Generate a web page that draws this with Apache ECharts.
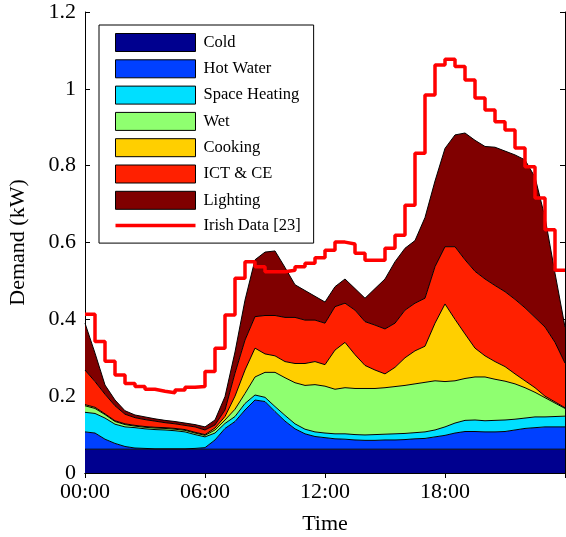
<!DOCTYPE html>
<html>
<head>
<meta charset="utf-8">
<script src="https://cdn.jsdelivr.net/npm/echarts@6/dist/echarts.min.js"></script>
<style>html,body{margin:0;padding:0;background:#fff}#c{width:566px;height:537px}</style>
</head>
<body>
<div id="c"></div>
<script>
// time of day in hours (30-minute samples)
const times = [0,0.5,1,1.5,2,2.5,3,3.5,4,4.5,5,5.5,6,6.5,7,7.5,8,8.5,9,9.5,10,10.5,11,11.5,12,12.5,13,13.5,14,14.5,15,15.5,16,16.5,17,17.5,18,18.5,19,19.5,20,20.5,21,21.5,22,22.5,23,23.5,24];
const xTickLabels = ['00:00','06:00','12:00','18:00'];
const categories = ['Cold','Hot Water','Space Heating','Wet','Cooking','ICT & CE','Lighting'];
const colors = ['#00008f','#0040ff','#00dfff','#8fff70','#ffcf00','#ff2000','#800000'];

const cold = [0.062,0.062,0.062,0.062,0.062,0.062,0.062,0.062,0.062,0.062,0.062,0.062,0.062,0.062,0.062,0.062,0.062,0.062,0.062,0.062,0.062,0.062,0.062,0.062,0.062,0.062,0.062,0.062,0.062,0.062,0.062,0.062,0.062,0.062,0.062,0.062,0.062,0.062,0.062,0.062,0.062,0.062,0.062,0.062,0.062,0.062,0.062,0.062,0.062];
const hotWater = [0.045,0.042,0.026,0.015,0.007,0.003,0.002,0.001,0.001,0.001,0.001,0.002,0.004,0.024,0.054,0.072,0.102,0.128,0.124,0.098,0.073,0.053,0.040,0.033,0.030,0.027,0.026,0.024,0.023,0.023,0.024,0.024,0.025,0.027,0.028,0.032,0.036,0.042,0.046,0.046,0.045,0.045,0.046,0.050,0.054,0.056,0.058,0.058,0.058];
const spaceHeating = [0.051,0.051,0.055,0.050,0.051,0.053,0.051,0.050,0.049,0.047,0.044,0.036,0.028,0.018,0.013,0.013,0.017,0.013,0.011,0.013,0.015,0.013,0.012,0.012,0.012,0.013,0.014,0.014,0.014,0.015,0.015,0.016,0.016,0.016,0.017,0.018,0.022,0.026,0.029,0.030,0.029,0.030,0.030,0.028,0.027,0.028,0.026,0.027,0.028];
const wet = [0.017,0.013,0.009,0.007,0.006,0.004,0.004,0.004,0.004,0.004,0.004,0.004,0.004,0.008,0.009,0.019,0.026,0.047,0.065,0.089,0.098,0.107,0.114,0.123,0.122,0.116,0.120,0.120,0.121,0.120,0.121,0.123,0.125,0.127,0.129,0.128,0.118,0.110,0.109,0.112,0.114,0.107,0.101,0.092,0.079,0.064,0.050,0.035,0.020];
const cooking = [0.003,0.003,0.002,0.002,0.002,0.002,0.002,0.002,0.002,0.002,0.002,0.002,0.002,0.005,0.009,0.034,0.061,0.075,0.048,0.043,0.042,0.050,0.057,0.060,0.056,0.102,0.118,0.088,0.060,0.048,0.036,0.050,0.072,0.086,0.094,0.150,0.202,0.160,0.116,0.075,0.055,0.046,0.038,0.026,0.018,0.012,0.004,0.003,0.002];
const ict = [0.090,0.067,0.051,0.039,0.025,0.020,0.018,0.016,0.013,0.012,0.011,0.014,0.012,0.008,0.017,0.060,0.078,0.082,0.100,0.105,0.115,0.120,0.113,0.108,0.108,0.113,0.102,0.116,0.114,0.117,0.117,0.115,0.124,0.124,0.125,0.147,0.149,0.189,0.193,0.200,0.200,0.198,0.195,0.194,0.190,0.183,0.180,0.155,0.116];
const lighting = [0.122,0.074,0.024,0.015,0.009,0.007,0.007,0.006,0.006,0.006,0.006,0.006,0.008,0.013,0.035,0.055,0.104,0.148,0.165,0.168,0.130,0.085,0.077,0.062,0.055,0.052,0.063,0.056,0.061,0.095,0.130,0.160,0.161,0.163,0.210,0.223,0.256,0.291,0.330,0.341,0.345,0.360,0.366,0.376,0.385,0.365,0.285,0.180,0.094];

// Irish Data [23]: half-hourly values (each holds for 30 minutes); last one held until 24:00
const irish = [0.413,0.342,0.291,0.255,0.233,0.225,0.218,0.213,0.209,0.216,0.223,0.225,0.264,0.325,0.411,0.507,0.550,0.537,0.524,0.524,0.528,0.537,0.546,0.560,0.580,0.601,0.596,0.572,0.554,0.554,0.585,0.619,0.697,0.832,0.984,1.062,1.077,1.058,1.023,0.976,0.945,0.914,0.893,0.846,0.797,0.716,0.633,0.528];

const layers = [cold, hotWater, spaceHeating, wet, cooking, ict, lighting];
const serif = "'Liberation Serif','Times New Roman',serif";

const series = layers.map((vals, k) => ({
  name: categories[k],
  type: 'line',
  stack: 'demand',
  symbol: 'none',
  data: vals,
  lineStyle: {color: '#000', width: 1},
  areaStyle: {color: colors[k], opacity: 1},
  itemStyle: {color: colors[k]},
  z: 2
}));
series.push({
  name: 'Irish Data [23]',
  type: 'line',
  symbol: 'none',
  step: 'end',
  data: times.map((t, i) => irish[Math.min(i, irish.length - 1)]),
  lineStyle: {color: '#ff0000', width: 3.5},
  itemStyle: {color: '#ff0000'},
  z: 5
});

const legendData = categories.map((c, k) => ({
  name: c, icon: 'rect',
  itemStyle: {color: colors[k], borderColor: '#000', borderWidth: 1}
}));
legendData.push({name: 'Irish Data [23]', icon: 'path://M0,0 L80,0 L80,3.5 L0,3.5 Z',
  itemStyle: {color: '#ff0000', borderWidth: 0}});

const axisText = {color: '#000', fontFamily: serif, fontSize: 22};
const tickCommon = {show: true, inside: true, length: 5, interval: 11, lineStyle: {color: '#000', width: 1}};
const lineCommon = {show: true, lineStyle: {color: '#000', width: 1}};
const catLabels = times.map(String);

const chart = echarts.init(document.getElementById('c'), null, {renderer: 'canvas'});
chart.setOption({
  animation: false,
  backgroundColor: '#fff',
  grid: {left: 85, right: 1, top: 12, bottom: 64, containLabel: false, outerBoundsMode: 'none'},
  legend: {
    orient: 'vertical', left: 99, top: 25,
    padding: [8, 13, 9, 16],
    itemWidth: 80, itemHeight: 18, itemGap: 7.3,
    backgroundColor: '#fff', borderColor: '#000', borderWidth: 1, borderRadius: 0,
    selectedMode: false,
    textStyle: {color: '#000', fontFamily: serif, fontSize: 16.5, padding: [0, 0, 0, 3]},
    data: legendData
  },
  xAxis: [{
    type: 'category', data: catLabels, boundaryGap: false, position: 'bottom',
    name: 'Time', nameLocation: 'middle', nameGap: 40,
    nameTextStyle: axisText,
    axisLine: lineCommon, axisTick: tickCommon, splitLine: {show: false},
    axisLabel: Object.assign({margin: 8, interval: 11,
      formatter: (v, i) => (i % 12 === 0 && i < 48 ? xTickLabels[i / 12] : '')}, axisText)
  }, {
    type: 'category', data: catLabels, boundaryGap: false, position: 'top',
    axisLine: lineCommon, axisTick: tickCommon, splitLine: {show: false},
    axisLabel: {show: false}
  }],
  yAxis: [{
    type: 'value', min: 0, max: 1.2, interval: 0.2, position: 'left',
    name: 'Demand (kW)', nameLocation: 'middle', nameGap: 56,
    nameTextStyle: axisText,
    axisLine: lineCommon, axisTick: Object.assign({}, tickCommon, {interval: 'auto'}), splitLine: {show: false},
    axisLabel: Object.assign({margin: 9}, axisText)
  }, {
    type: 'value', min: 0, max: 1.2, interval: 0.2, position: 'right',
    axisLine: lineCommon, axisTick: Object.assign({}, tickCommon, {interval: 'auto'}), splitLine: {show: false},
    axisLabel: {show: false}
  }],
  series: series
});
</script>
</body>
</html>
